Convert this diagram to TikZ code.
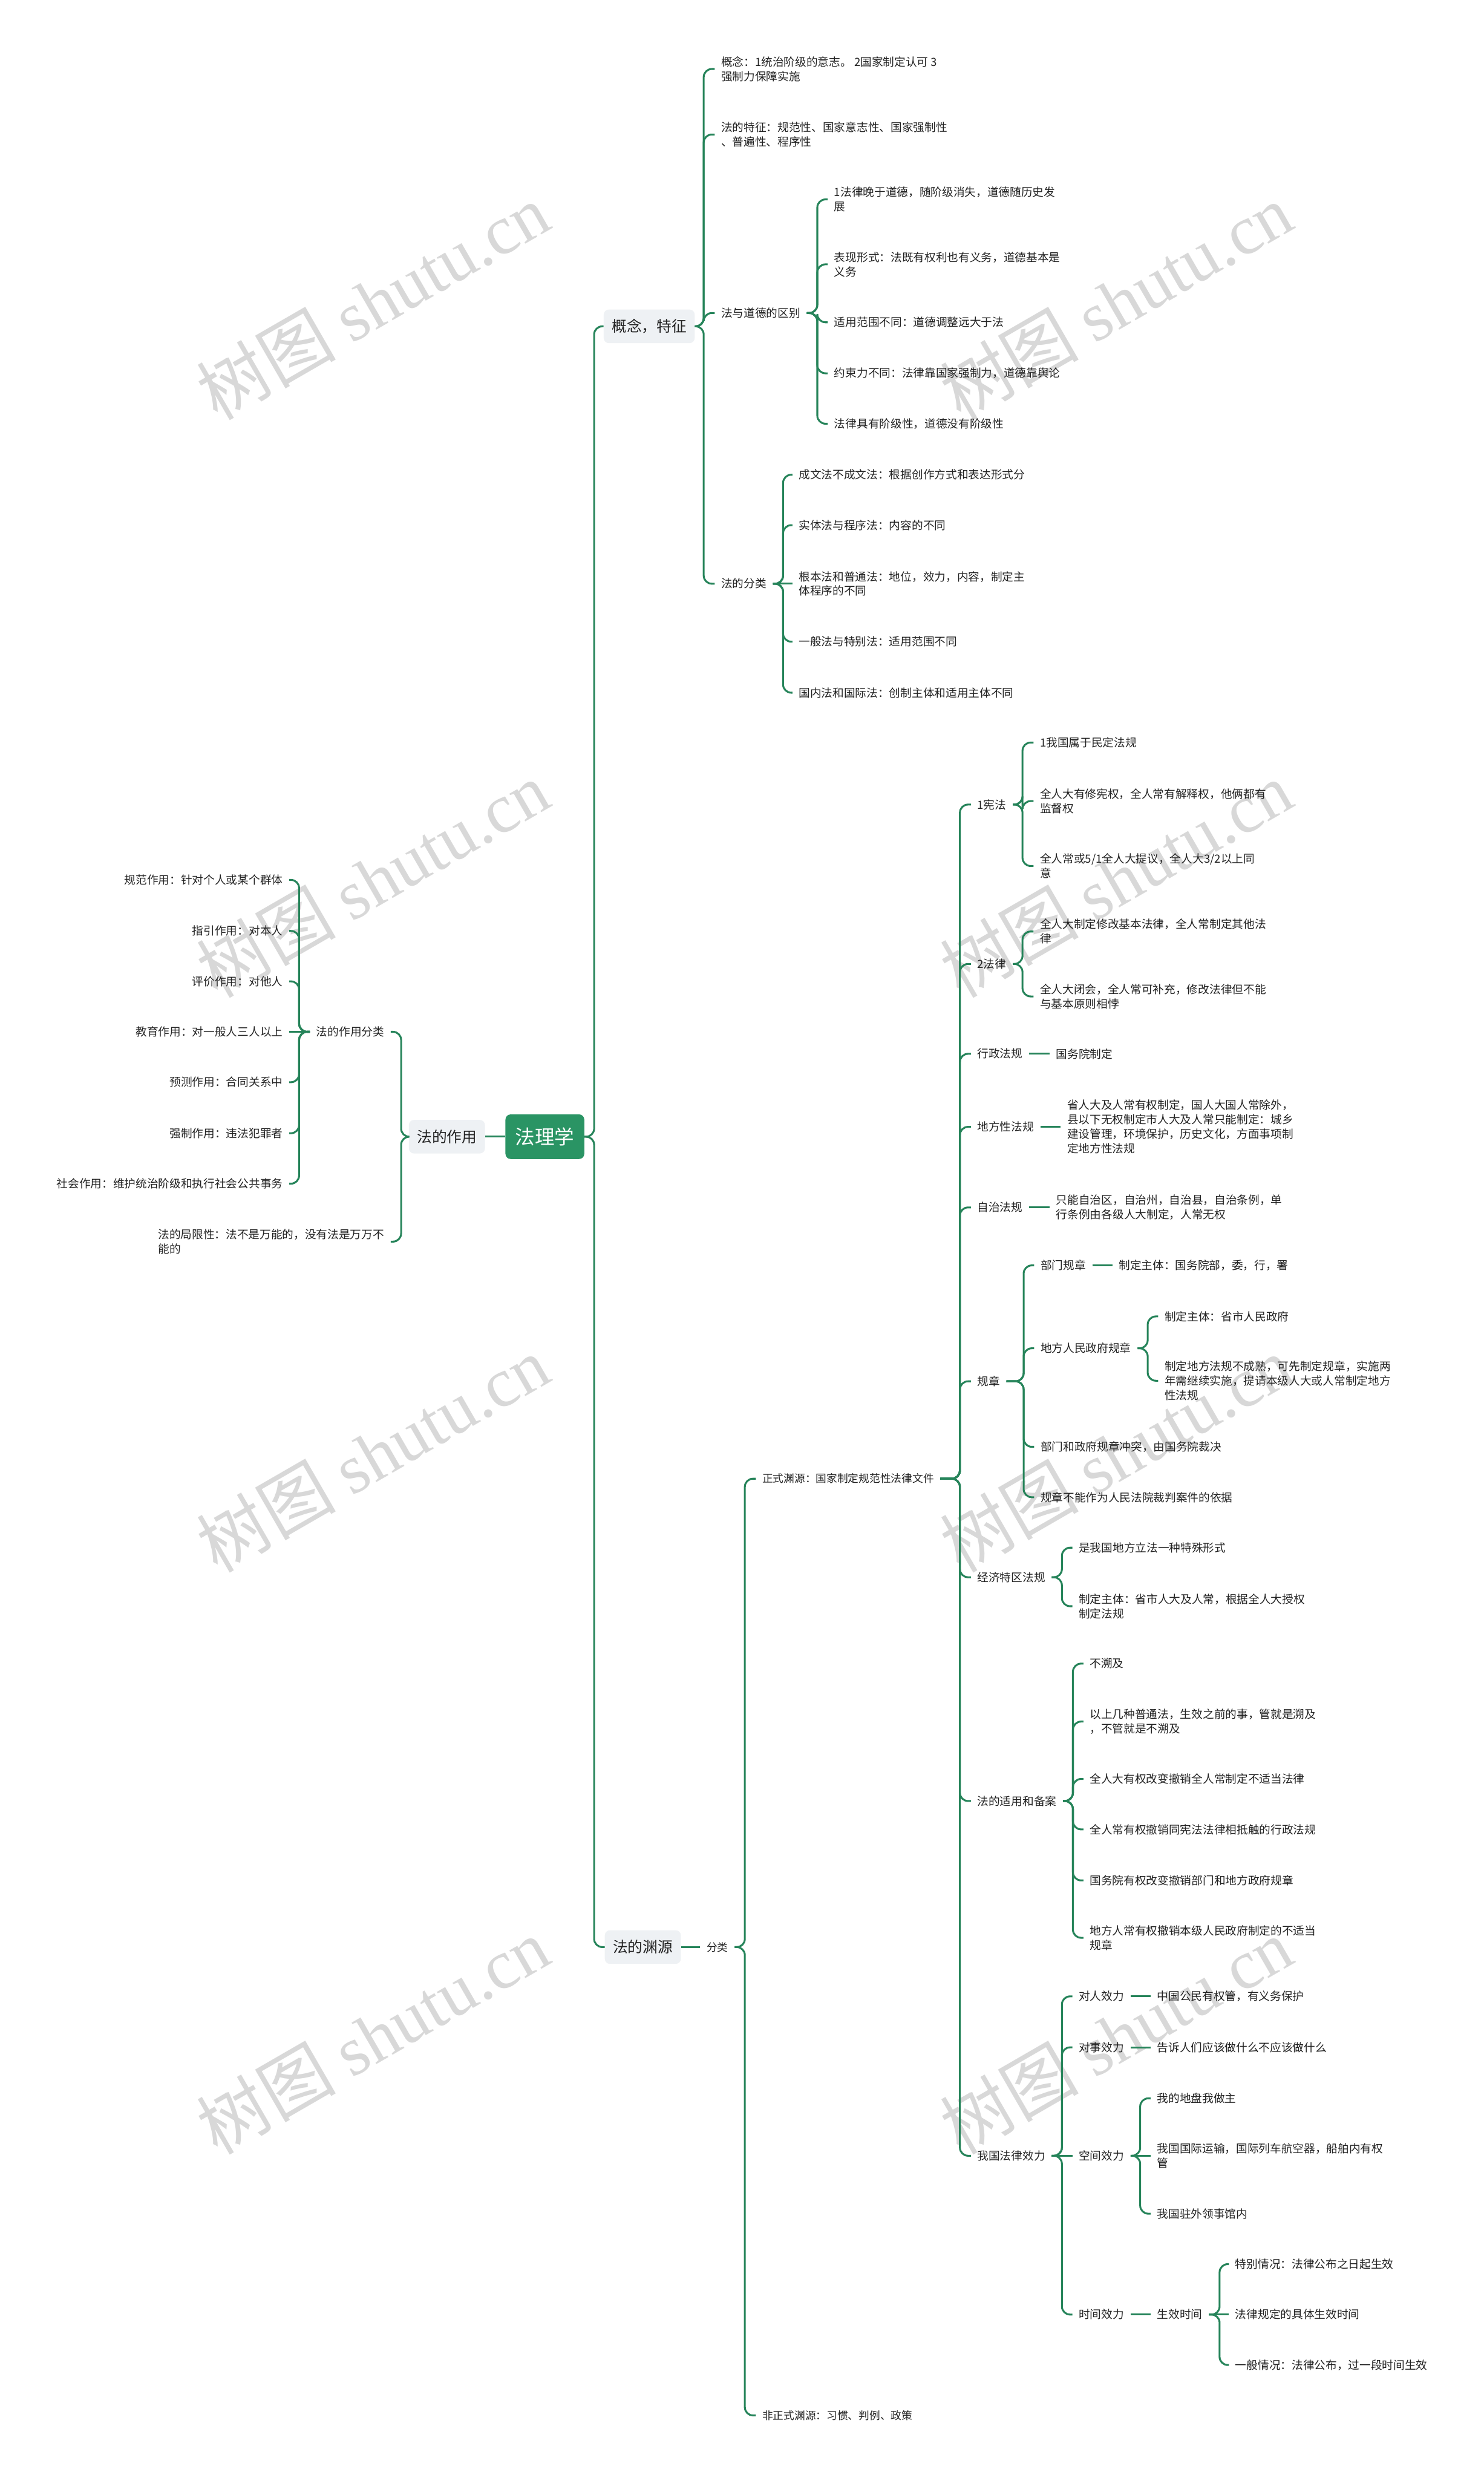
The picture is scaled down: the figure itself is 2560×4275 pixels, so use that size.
\documentclass[tikz,border=0pt]{standalone}
\usepackage{fontspec}
\setmainfont{Noto Sans CJK SC}
\newfontfamily\wmlatin{Liberation Serif}
\usetikzlibrary{calc}
\definecolor{lineG}{RGB}{38,132,90}
\definecolor{rootG}{RGB}{42,148,100}
\definecolor{boxG}{RGB}{238,241,244}
\definecolor{txt}{RGB}{34,34,34}
\definecolor{wm}{RGB}{216,216,216}
\newcommand\mmlink[3]{\draw[conn] (#1) -- (#1 -| #2) |- (#3);}
\newcommand\mmstraight[2]{\draw[conn] (#1) -- (#2);}
\begin{document}
\begin{tikzpicture}[x=1pt,y=-1pt,
  conn/.style={draw=lineG, line width=3.2pt, rounded corners=14pt},
  leaf/.style={font=\fontsize{19.5}{25}\selectfont, text=txt, inner xsep=11pt, inner ysep=2pt, align=left, anchor=west},
  leafL/.style={leaf, anchor=east, align=right},
  srcnode/.style={leaf, font=\fontsize{18.5}{24}\selectfont},
  mainbox/.style={font=\fontsize{25.8}{30}\selectfont, fill=boxG, rounded corners=9pt, inner xsep=14pt, minimum height=58pt, text=txt},
  rootbox/.style={font=\fontsize{34}{40}\selectfont, fill=rootG, text=white, rounded corners=9pt, minimum width=136pt, minimum height=77pt},
  wmk/.style={text=wm, rotate=30, font=\fontsize{120}{130}\selectfont}
]
\useasboundingbox (0,0) rectangle (2560,4275);
\fill[white] (0,0) rectangle (2560,4275);

% watermarks
\foreach \wx/\wy [count=\i] in {643/520,1925/520,643/1517,1925/1517,643/2508,1925/2508,643/3512,1925/3512}
  \node[wmk] (wm\i) at (\wx,\wy) {树图 {\wmlatin shutu.cn}};

% junction x positions
\coordinate (jR) at (1025,0);
\coordinate (jK1) at (1214,0);
\coordinate (jDD) at (1410,0);
\coordinate (jFL) at (1351,0);
\coordinate (jK2) at (692,0);
\coordinate (jZY) at (516,0);
\coordinate (jFen) at (1285,0);
\coordinate (jZS) at (1656,0);
\coordinate (jXF) at (1764,0);
\coordinate (jGZ) at (1766,0);
\coordinate (jDF) at (1980,0);
\coordinate (jJJ) at (1832,0);
\coordinate (jSY) at (1851,0);
\coordinate (jXL) at (1832,0);
\coordinate (jKJ) at (1967,0);
\coordinate (jSX) at (2104,0);

% main nodes
\node[rootbox] (root) at (940,1961) {法理学};
\node[mainbox] (k1) at (1120,563) {概念，特征};
\node[mainbox] (k2) at (771,1961) {法的作用};
\node[mainbox] (k3) at (1109,3359) {法的渊源};

% concept branch
\node[leaf] (a1) at (1233,119) {概念：1统治阶级的意志。 2国家制定认可 3\\强制力保障实施};
\node[leaf] (a2) at (1233,232) {法的特征：规范性、国家意志性、国家强制性\\、普遍性、程序性};
\node[leaf] (a3) at (1233,540) {法与道德的区别};
\node[leaf] (a4) at (1233,1007) {法的分类};

\node[leaf] (d1) at (1428,344) {1法律晚于道德，随阶级消失，道德随历史发\\展};
\node[leaf] (d2) at (1428,456) {表现形式：法既有权利也有义务，道德基本是\\义务};
\node[leaf] (d3) at (1428,556) {适用范围不同：道德调整远大于法};
\node[leaf] (d4) at (1428,644) {约束力不同：法律靠国家强制力，道德靠舆论};
\node[leaf] (d5) at (1428,731) {法律具有阶级性，道德没有阶级性};

\node[leaf] (f1) at (1367,819) {成文法不成文法：根据创作方式和表达形式分};
\node[leaf] (f2) at (1367,906) {实体法与程序法：内容的不同};
\node[leaf] (f3) at (1367,1007) {根本法和普通法：地位，效力，内容，制定主\\体程序的不同};
\node[leaf] (f4) at (1367,1107) {一般法与特别法：适用范围不同};
\node[leaf] (f5) at (1367,1195) {国内法和国际法：创制主体和适用主体不同};

% function branch (left)
\node[leafL] (z0) at (674,1780) {法的作用分类};
\node[leafL, align=left] (z8) at (674,2142) {法的局限性：法不是万能的，没有法是万万不\\能的};
\node[leafL] (z1) at (499,1518) {规范作用：针对个人或某个群体};
\node[leafL] (z2) at (499,1606) {指引作用：对本人};
\node[leafL] (z3) at (499,1693) {评价作用：对他人};
\node[leafL] (z4) at (499,1780) {教育作用：对一般人三人以上};
\node[leafL] (z5) at (499,1867) {预测作用：合同关系中};
\node[leafL] (z6) at (499,1955) {强制作用：违法犯罪者};
\node[leafL] (z7) at (499,2042) {社会作用：维护统治阶级和执行社会公共事务};

% source branch
\node[srcnode] (fen) at (1208,3359) {分类};
\node[srcnode] (s1) at (1304,2551) {正式渊源：国家制定规范性法律文件};
\node[srcnode] (s2) at (1304,4167) {非正式渊源：习惯、判例、政策};

\node[leaf] (x1) at (1675,1388) {1宪法};
\node[leaf] (x2) at (1675,1663) {2法律};
\node[leaf] (x3) at (1675,1818) {行政法规};
\node[leaf] (x4) at (1675,1944) {地方性法规};
\node[leaf] (x5) at (1675,2083) {自治法规};
\node[leaf] (x6) at (1675,2383) {规章};
\node[leaf] (x7) at (1675,2721) {经济特区法规};
\node[leaf] (x8) at (1675,3107) {法的适用和备案};
\node[leaf] (x9) at (1675,3719) {我国法律效力};

\node[leaf] (x1a) at (1783,1281) {1我国属于民定法规};
\node[leaf] (x1b) at (1783,1382) {全人大有修宪权，全人常有解释权，他俩都有\\监督权};
\node[leaf] (x1c) at (1783,1494) {全人常或5/1全人大提议，全人大3/2以上同\\意};
\node[leaf] (x2a) at (1783,1607) {全人大制定修改基本法律，全人常制定其他法\\律};
\node[leaf] (x2b) at (1783,1719) {全人大闭会，全人常可补充，修改法律但不能\\与基本原则相悖};
\node[leaf] (x3a) at (1811,1818) {国务院制定};
\node[leaf] (x4a) at (1830,1944) {省人大及人常有权制定，国人大国人常除外，\\县以下无权制定市人大及人常只能制定：城乡\\建设管理，环境保护，历史文化，方面事项制\\定地方性法规};
\node[leaf] (x5a) at (1811,2083) {只能自治区，自治州，自治县，自治条例，单\\行条例由各级人大制定，人常无权};

\node[leaf] (g1) at (1784,2183) {部门规章};
\node[leaf] (g2) at (1784,2326) {地方人民政府规章};
\node[leaf] (g3) at (1784,2496) {部门和政府规章冲突，由国务院裁决};
\node[leaf] (g4) at (1784,2583) {规章不能作为人民法院裁判案件的依据};
\node[leaf] (g1a) at (1919,2183) {制定主体：国务院部，委，行，署};
\node[leaf] (g2a) at (1998,2271) {制定主体：省市人民政府};
\node[leaf] (g2b) at (1998,2382) {制定地方法规不成熟，可先制定规章，实施两\\年需继续实施，提请本级人大或人常制定地方\\性法规};

\node[leaf] (e1) at (1850,2670) {是我国地方立法一种特殊形式};
\node[leaf] (e2) at (1850,2771) {制定主体：省市人大及人常，根据全人大授权\\制定法规};

\node[leaf] (y1) at (1869,2870) {不溯及};
\node[leaf] (y2) at (1869,2970) {以上几种普通法，生效之前的事，管就是溯及\\，不管就是不溯及};
\node[leaf] (y3) at (1869,3069) {全人大有权改变撤销全人常制定不适当法律};
\node[leaf] (y4) at (1869,3156) {全人常有权撤销同宪法法律相抵触的行政法规};
\node[leaf] (y5) at (1869,3244) {国务院有权改变撤销部门和地方政府规章};
\node[leaf] (y6) at (1869,3343) {地方人常有权撤销本级人民政府制定的不适当\\规章};

\node[leaf] (w1) at (1850,3444) {对人效力};
\node[leaf] (w2) at (1850,3532) {对事效力};
\node[leaf] (w3) at (1850,3719) {空间效力};
\node[leaf] (w4) at (1850,3993) {时间效力};
\node[leaf] (w1a) at (1985,3444) {中国公民有权管，有义务保护};
\node[leaf] (w2a) at (1985,3532) {告诉人们应该做什么不应该做什么};
\node[leaf] (w3a) at (1985,3620) {我的地盘我做主};
\node[leaf] (w3b) at (1985,3719) {我国国际运输，国际列车航空器，船舶内有权\\管};
\node[leaf] (w3c) at (1985,3819) {我国驻外领事馆内};
\node[leaf] (w4a) at (1985,3993) {生效时间};
\node[leaf] (t1) at (2120,3906) {特别情况：法律公布之日起生效};
\node[leaf] (t2) at (2120,3993) {法律规定的具体生效时间};
\node[leaf] (t3) at (2120,4080) {一般情况：法律公布，过一段时间生效};

% connectors
\mmlink{root}{jR}{k1}
\mmlink{root}{jR}{k3}
\mmstraight{root}{k2}

\mmlink{k1}{jK1}{a1}
\mmlink{k1}{jK1}{a2}
\mmlink{k1}{jK1}{a3}
\mmlink{k1}{jK1}{a4}

\mmlink{a3}{jDD}{d1}
\mmlink{a3}{jDD}{d2}
\mmlink{a3}{jDD}{d3}
\mmlink{a3}{jDD}{d4}
\mmlink{a3}{jDD}{d5}

\mmlink{a4}{jFL}{f1}
\mmlink{a4}{jFL}{f2}
\mmstraight{a4}{f3}
\mmlink{a4}{jFL}{f4}
\mmlink{a4}{jFL}{f5}

\mmlink{k2}{jK2}{z0}
\mmlink{k2}{jK2}{z8}
\mmlink{z0}{jZY}{z1}
\mmlink{z0}{jZY}{z2}
\mmlink{z0}{jZY}{z3}
\mmstraight{z0}{z4}
\mmlink{z0}{jZY}{z5}
\mmlink{z0}{jZY}{z6}
\mmlink{z0}{jZY}{z7}

\mmstraight{k3}{fen}
\mmlink{fen}{jFen}{s1}
\mmlink{fen}{jFen}{s2}

\mmlink{s1}{jZS}{x1}
\mmlink{s1}{jZS}{x2}
\mmlink{s1}{jZS}{x3}
\mmlink{s1}{jZS}{x4}
\mmlink{s1}{jZS}{x5}
\mmlink{s1}{jZS}{x6}
\mmlink{s1}{jZS}{x7}
\mmlink{s1}{jZS}{x8}
\mmlink{s1}{jZS}{x9}

\mmlink{x1}{jXF}{x1a}
\mmlink{x1}{jXF}{x1b}
\mmlink{x1}{jXF}{x1c}
\mmlink{x2}{jXF}{x2a}
\mmlink{x2}{jXF}{x2b}
\mmstraight{x3}{x3a}
\mmstraight{x4}{x4a}
\mmstraight{x5}{x5a}

\mmlink{x6}{jGZ}{g1}
\mmlink{x6}{jGZ}{g2}
\mmlink{x6}{jGZ}{g3}
\mmlink{x6}{jGZ}{g4}
\mmstraight{g1}{g1a}
\mmlink{g2}{jDF}{g2a}
\mmlink{g2}{jDF}{g2b}

\mmlink{x7}{jJJ}{e1}
\mmlink{x7}{jJJ}{e2}

\mmlink{x8}{jSY}{y1}
\mmlink{x8}{jSY}{y2}
\mmlink{x8}{jSY}{y3}
\mmlink{x8}{jSY}{y4}
\mmlink{x8}{jSY}{y5}
\mmlink{x8}{jSY}{y6}

\mmlink{x9}{jXL}{w1}
\mmlink{x9}{jXL}{w2}
\mmstraight{x9}{w3}
\mmlink{x9}{jXL}{w4}
\mmstraight{w1}{w1a}
\mmstraight{w2}{w2a}
\mmlink{w3}{jKJ}{w3a}
\mmstraight{w3}{w3b}
\mmlink{w3}{jKJ}{w3c}
\mmstraight{w4}{w4a}
\mmlink{w4a}{jSX}{t1}
\mmstraight{w4a}{t2}
\mmlink{w4a}{jSX}{t3}
\end{tikzpicture}
\end{document}
